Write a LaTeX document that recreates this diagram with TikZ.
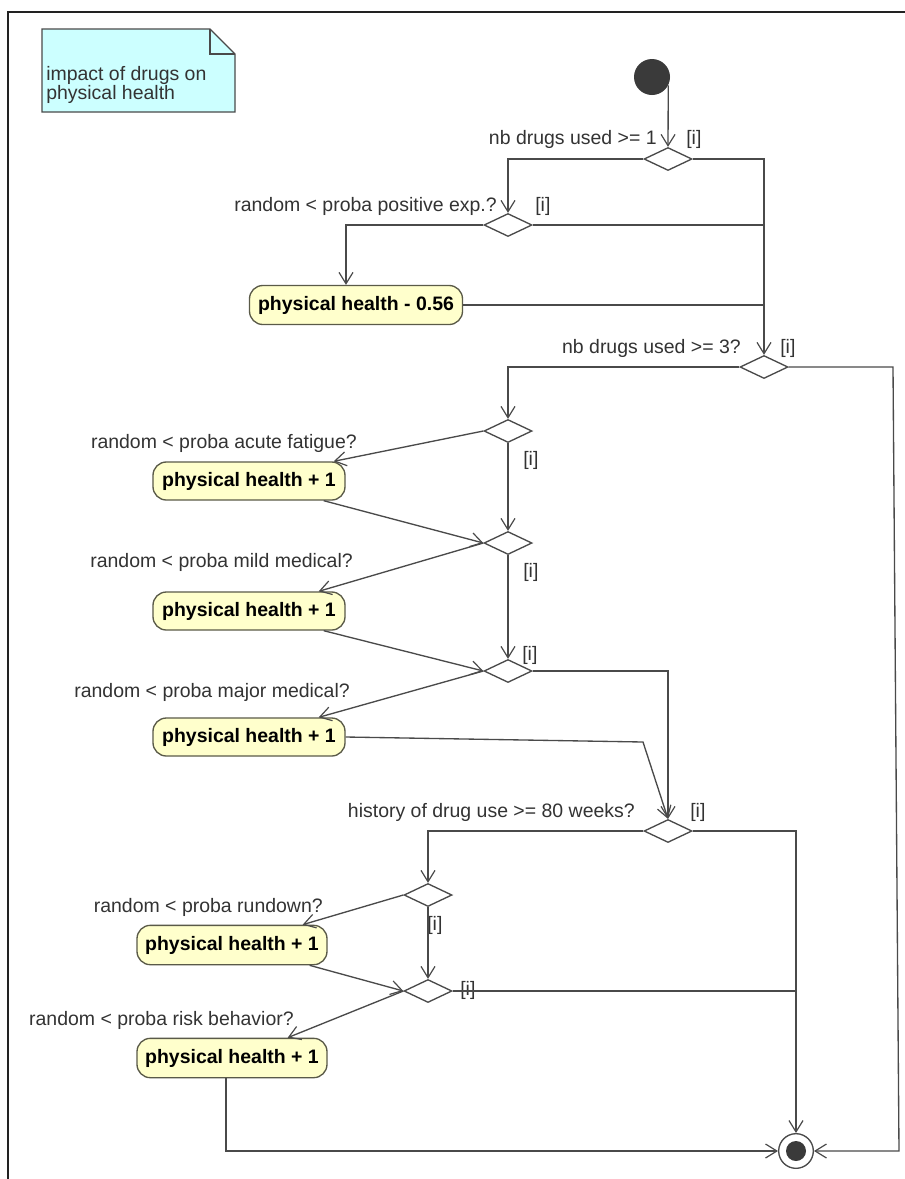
\documentclass[tikz,border=0pt]{standalone}
\usepackage{fontspec}
\setmainfont{Liberation Sans}
\usetikzlibrary{arrows.meta,shapes.geometric,calc}
\definecolor{linegray}{HTML}{4A4A4A}
\definecolor{dotgray}{HTML}{3A3A3A}
\definecolor{notecyan}{HTML}{CCFFFF}
\definecolor{actyellow}{HTML}{FFFFCC}
\definecolor{actborder}{HTML}{5A5A48}
\definecolor{framegray}{HTML}{222222}
\definecolor{labelgray}{HTML}{333333}

\begin{document}
\begin{tikzpicture}[x=0.75pt,y=-0.75pt,
  flow/.style={draw=linegray,line width=1pt},
  arr/.style={flow,-{Straight Barb[length=8.5pt,width=10.5pt,line width=0.9pt]}},
  decision/.style={diamond,draw=linegray,fill=white,line width=1pt,
    minimum width=36pt,minimum height=17.25pt,inner sep=0pt},
  action/.style={rectangle,rounded corners=10pt,draw=actborder,fill=actyellow,
    line width=1pt,inner sep=0pt,text=black,
    font=\fontsize{14.6}{17.5}\selectfont\bfseries},
  actwide/.style={action,minimum width=159.75pt,minimum height=29.25pt},
  actmid/.style={action,minimum width=144pt,minimum height=28.5pt},
  actlow/.style={action,minimum width=142.5pt,minimum height=29.5pt},
  guard/.style={inner sep=0pt,text=labelgray,font=\fontsize{14.6}{17.5}\selectfont},
  startdot/.style={circle,fill=dotgray,minimum size=27pt,inner sep=0pt},
  endring/.style={circle,draw=linegray,fill=white,line width=1pt,minimum size=26pt,inner sep=0pt}
]
\fill[white] (0,0) rectangle (905,1179);
\useasboundingbox (0,0) rectangle (905,1179);

% diagram frame
\draw[framegray,line width=1.5pt] (8,1179) -- (8,12) -- (905,12);

% note with folded corner
\draw[draw=linegray,fill=notecyan,line width=1pt]
  (42,29) -- (210,29) -- (235,54) -- (235,112) -- (42,112) -- cycle;
\draw[linegray,line width=1pt] (210,29) -- (210,54) -- (235,54);
\node[anchor=north west,align=left,inner sep=0pt,text=labelgray,
  font=\fontsize{14.6}{13.5}\selectfont] (notetext) at (46,66)
  {impact of drugs on\\physical health};

% nodes
\node[startdot] (start) at (652,77) {};
\node[decision] (d1) at (668,159) {};
\node[decision] (d2) at (508,225) {};
\node[actwide] (a0) at (356,305) {physical health - 0.56};
\node[decision] (d3) at (764,367) {};
\node[decision] (d4) at (508,431) {};
\node[actmid] (a1) at (249,481) {physical health + 1};
\node[decision] (d5) at (508,543) {};
\node[actmid] (a2) at (249,611) {physical health + 1};
\node[decision] (d6) at (508,671) {};
\node[actmid] (a3) at (249,737) {physical health + 1};
\node[decision] (d7) at (668,831) {};
\node[decision] (d8) at (428,895) {};
\node[actlow] (a4) at (232,945) {physical health + 1};
\node[decision] (d9) at (428,991) {};
\node[actlow] (a5) at (232,1058) {physical health + 1};
\node[endring] (end) at (796,1151) {};
\fill[dotgray] (end.center) circle[radius=7.5pt];

% guard labels
\node[guard,anchor=base east] (g1) at (657,144) {nb drugs used >= 1};
\node[guard,anchor=base west] (i1) at (686,144) {[i]};
\node[guard,anchor=base east] (g2) at (497,211) {random < proba positive exp.?};
\node[guard,anchor=base west] (i2) at (535,211) {[i]};
\node[guard,anchor=base east] (g3) at (741,353) {nb drugs used >= 3?};
\node[guard,anchor=base west] (i3) at (780,353) {[i]};
\node[guard,anchor=base east] (g4) at (357,448) {random < proba acute fatigue?};
\node[guard,anchor=base west] (i4) at (523,465) {[i]};
\node[guard,anchor=base east] (g5) at (353,567) {random < proba mild medical?};
\node[guard,anchor=base west] (i5) at (523,577) {[i]};
\node[guard,anchor=base east] (g6) at (350,697) {random < proba major medical?};
\node[guard,anchor=base west] (i6) at (522,660) {[i]};
\node[guard,anchor=base east] (g7) at (635,817) {history of drug use >= 80 weeks?};
\node[guard,anchor=base west] (i7) at (690,817) {[i]};
\node[guard,anchor=base east] (g8) at (323,912) {random < proba rundown?};
\node[guard,anchor=base west] (i8) at (427,930) {[i]};
\node[guard,anchor=base east] (g9) at (294,1025) {random < proba risk behavior?};
\node[guard,anchor=base west] (i9) at (460,995) {[i]};

% helper points on the far right return line
\coordinate (rtop) at (893,367);
\coordinate (rbot) at (899,1151);
\coordinate (a3bend) at (643,742);

% connectors
\draw[arr] (start.-27) -- (d1.north);
\draw[arr] (d1.west) -| (d2.north);
\draw[arr] (d1.east) -| (d3.north);
\draw[flow] (d2.east) -- (d2.east -| d3.north);
\draw[arr] (d2.west) -| ($(a0.north)+(-10,0)$);
\draw[flow] (a0.east) -- (a0.east -| d3.north);

\draw[arr] (d3.west) -| (d4.north);
\draw[arr] (d3.east) -- (rtop) -- (rbot) -- (end.east);

\draw[arr] (d4.west) -- ($(a1.north east)+(-12,0)$);
\draw[arr] (d4.south) -- (d5.north);
\draw[arr] ($(a1.south east)+(-22,0)$) -- (d5.west);

\draw[arr] (d5.west) -- ($(a2.north east)+(-27,0)$);
\draw[arr] (d5.south) -- (d6.north);
\draw[arr] ($(a2.south east)+(-22,0)$) -- (d6.west);

\draw[arr] (d6.west) -- ($(a3.north east)+(-27,0)$);
\draw[arr] (d6.east) -| (d7.north);
\draw[arr] (a3.east) -- (a3bend) -- (d7.north);

\draw[arr] (d7.west) -| (d8.north);
\draw[arr] (d7.east) -| (end.north);

\draw[arr] (d8.west) -- ($(a4.north east)+(-25,0)$);
\draw[arr] (d8.south) -- (d9.north);
\draw[arr] ($(a4.south east)+(-18,0)$) -- (d9.west);

\draw[arr] (d9.west) -- ($(a5.north east)+(-40,0)$);
\draw[flow] (d9.east) -- (d9.east -| end.north);
\draw[arr] ($(a5.south)+(-6,0)$) |- (end.west);
\end{tikzpicture}
\end{document}
